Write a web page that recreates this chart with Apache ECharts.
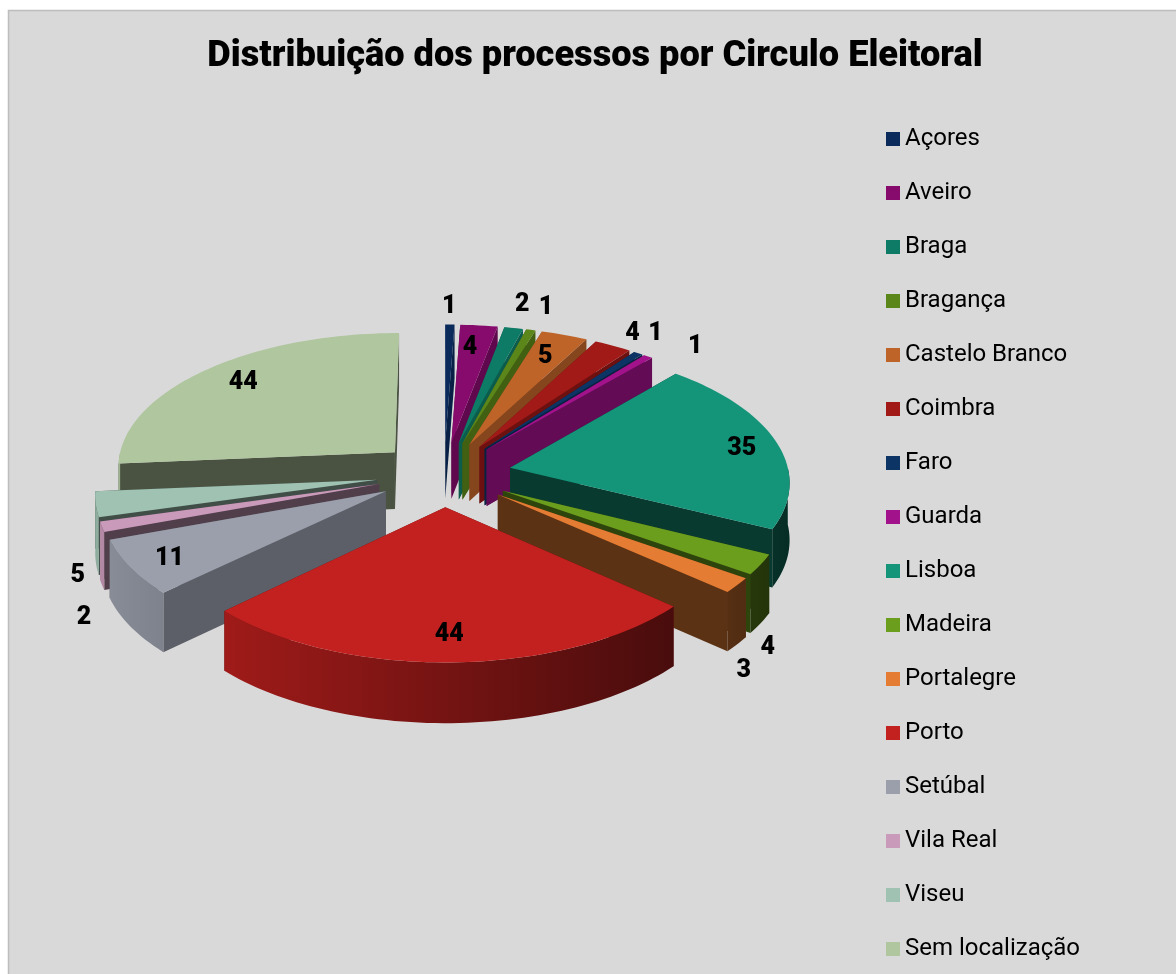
<!DOCTYPE html>
<html><head><meta charset="utf-8">
<style>html,body{margin:0;padding:0;background:#fff}#c{width:1176px;height:974px}</style>
<script src="https://cdn.jsdelivr.net/npm/echarts@6/dist/echarts.min.js"></script>
</head><body><div id="c"></div>
<script>
const titleText = 'Distribuição dos processos por Circulo Eleitoral';
const categories = ['Açores','Aveiro','Braga','Bragança','Castelo Branco','Coimbra','Faro','Guarda','Lisboa','Madeira','Portalegre','Porto','Setúbal','Vila Real','Viseu','Sem localização'];
const values = [1,4,2,1,5,4,1,1,35,4,3,44,11,2,5,44];
const colors = ['#0A2A5C','#860B6D','#0E7B66','#5B8619','#BE6429','#A11A18','#0C3565','#A1128B','#14957A','#6C9E1E','#E57C33','#C3211F','#9A9FAB','#C99ABA','#9FC2B2','#AFC69E'];
const wallShade = [.75,.72,.75,.72,.7,.67,.65,.62,.39,.43,.4,.5,.6,.4,.4,.42];
const labelRadius = [1.187,.811,1.239,1.235,.80,1.148,1.2,1.2,.857,1.31,1.356,.822,.861,1.30,1.19,.832];
const labelAngle = [.4,4.76,11.9,15.9,21.6,32.2,34.8,43.5,79.4,141.1,146.4,179.6,238.2,227,236.9,314];

const CX=444, CY=474, R=279, EXPLODE=67.6, TILT=.481, TAU=.000333, H=57, LABEL_DX=2, LABEL_DY=2;
const total = values.reduce((a,b)=>a+b,0);
const rad = d => d*Math.PI/180;
function project(X,Y,z){ const s=1/(1-TAU*Y); return [CX+s*X, CY+s*TILT*Y+z*H*(1+(s-1)*.5)]; }
function shade(hex,f){ const n=parseInt(hex.slice(1),16);
  return 'rgb('+[(n>>16)&255,(n>>8)&255,n&255].map(v=>Math.round(v*f)).join(',')+')'; }
const slices=[]; let acc=0;
values.forEach((v,i)=>{ const a0=acc/total*360; acc+=v; const a1=acc/total*360; slices.push({i,a0,a1,m:(a0+a1)/2}); });
function pt(sl,a,r,z){ const ox=EXPLODE*Math.sin(rad(sl.m)), oy=-EXPLODE*Math.cos(rad(sl.m));
  return project(ox+r*R*Math.sin(rad(a)), oy-r*R*Math.cos(rad(a)), z); }
function rim(sl,from,to,z){ const n=Math.max(2,Math.ceil((to-from)/1.5)), p=[];
  for(let j=0;j<=n;j++) p.push(pt(sl,from+(to-from)*j/n,1,z)); return p; }
const rimF = a => .6-.3*Math.sin(rad(a));
function renderSlice(sl,rank){ return function(){
  const c=colors[sl.i], kids=[]; const base=rank*10;
  const wall=(a,z2)=>({type:'polygon',z2,silent:true,shape:{points:[pt(sl,a,0,0),pt(sl,a,1,0),pt(sl,a,1,1),pt(sl,a,0,1)]},style:{fill:shade(c,wallShade[sl.i])}});
  const back = Math.cos(rad(sl.a0))<Math.cos(rad(sl.a1)) ? [sl.a0,sl.a1] : [sl.a1,sl.a0];
  kids.push(wall(back[0],base+1)); kids.push(wall(back[1],base+2));
  const segs=[]; if(sl.a0<270 && sl.a1>90){ segs.push([Math.max(sl.a0,90),Math.min(sl.a1,270)]); }
  segs.forEach(([f,t])=>{
    const top=rim(sl,f,t,0), bot=rim(sl,f,t,1).reverse();
    const leftFirst = top[0][0]<top[top.length-1][0];
    const fl=rimF(leftFirst?f:t), fr=rimF(leftFirst?t:f);
    kids.push({type:'polygon',z2:base+3,silent:true,shape:{points:top.concat(bot)},
      style:{fill:{type:'linear',x:0,y:0,x2:1,y2:0,colorStops:[{offset:0,color:shade(c,fl)},{offset:1,color:shade(c,fr)}]}}});
  });
  kids.push({type:'polygon',z2:base+4,silent:true,shape:{points:[pt(sl,sl.a0,0,0)].concat(rim(sl,sl.a0,sl.a1,0))},style:{fill:c}});
  const lp=pt(sl,labelAngle[sl.i],labelRadius[sl.i],0);
  kids.push({type:'text',z2:1000,silent:true,x:lp[0]+LABEL_DX,y:lp[1]+LABEL_DY,style:{text:String(values[sl.i]),fill:'#000',font:'900 25px Roboto',align:'center',verticalAlign:'middle'}});
  return {type:'group',children:kids};
};}
const depth=slices.slice().sort((p,q)=>(-Math.cos(rad(p.m)))-(-Math.cos(rad(q.m))));
const series=depth.map((sl,rank)=>({
  type:'custom',name:categories[sl.i],coordinateSystem:'none',
  itemStyle:{color:colors[sl.i]},data:[[values[sl.i]]],renderItem:renderSlice(sl,rank),animation:false,silent:true
}));
const chart=echarts.init(document.getElementById('c'),null,{renderer:'canvas'});
chart.setOption({
  backgroundColor:'#fff',animation:false,
  graphic:[{type:'rect',z:-10,silent:true,shape:{x:8.5,y:10.5,width:1180,height:980},style:{fill:'#D9D9D9',stroke:'#BDBDBD',lineWidth:1.5}}],
  title:{text:titleText,left:590,top:34,textAlign:'center',textStyle:{fontFamily:'Roboto',fontWeight:900,fontSize:36.2,color:'#000'}},
  legend:{orient:'vertical',left:886,top:127,padding:0,data:categories,icon:'rect',itemWidth:14,itemHeight:14,itemGap:30,selectedMode:false,
    textStyle:{fontFamily:'Roboto',fontSize:24,color:'#000',lineHeight:24}},
  series
});
</script></body></html>
